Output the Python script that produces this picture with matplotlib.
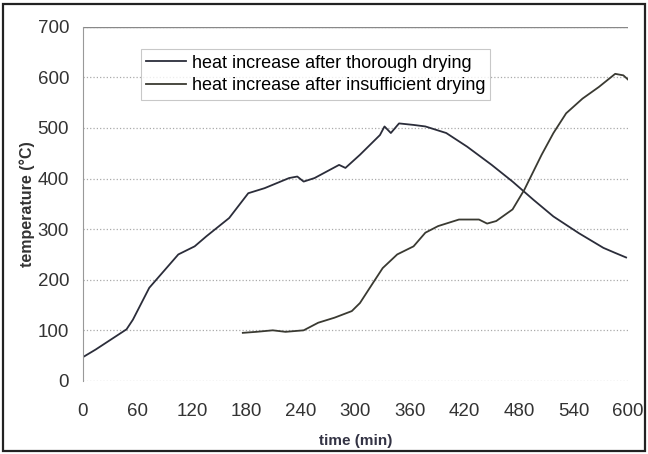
import matplotlib.pyplot as plt
from matplotlib.patches import Rectangle

plt.rcParams['font.family'] = ['Liberation Sans', 'DejaVu Sans']

# heat increase after thorough drying
t_thorough = [0, 14, 48, 55, 73, 105, 123, 136, 161, 182, 200, 227, 236, 243,
              255, 282, 289, 305, 327, 332, 339, 348, 364, 377, 400, 423, 450,
              473, 496, 518, 546, 573, 586, 598]
temp_thorough = [47, 62, 102, 121, 184, 250, 266, 286, 322, 371, 381, 401, 404,
                 394, 401, 427, 421, 447, 486, 503, 490, 509, 506, 503, 490,
                 463, 427, 394, 358, 325, 292, 263, 253, 244]

# heat increase after insufficient drying
t_insuff = [176, 191, 209, 223, 243, 259, 277, 296, 305, 318, 330, 346, 364,
            377, 391, 414, 436, 445, 455, 473, 486, 505, 518, 532, 550, 568,
            586, 595, 603]
temp_insuff = [95, 97, 100, 97, 100, 115, 125, 138, 154, 190, 223, 250, 266,
               293, 306, 319, 319, 311, 316, 339, 378, 447, 490, 529, 558, 581,
               607, 604, 591]

x_ticks = list(range(0, 601, 60))
y_ticks = list(range(0, 701, 100))

fig = plt.figure(figsize=(6.48, 4.54), dpi=100)
ax = fig.add_axes([0.128, 0.161, 0.841, 0.780])

ax.plot(t_thorough, temp_thorough, color='#2b2d3a', lw=1.3,
        label='heat increase after thorough drying')
ax.plot(t_insuff, temp_insuff, color='#3a3a32', lw=1.3,
        label='heat increase after insufficient drying')

ax.set_xlim(0, 600)
ax.set_ylim(0, 700)
ax.set_xticks(x_ticks)
ax.set_yticks(y_ticks)
ax.tick_params(axis='both', labelsize=13.5, labelcolor='#333333', length=0)
ax.tick_params(axis='x', pad=16)
ax.tick_params(axis='y', pad=10)
ax.grid(axis='y', color='#aaaaaa', linestyle=':', lw=0.9)
for side in ['top', 'right', 'bottom']:
    ax.spines[side].set_visible(False)
ax.spines['left'].set_color('#999999')
ax.axhline(700, color='#888888', lw=1.0)

ax.set_xlabel('time (min)', fontsize=11, fontweight='bold', color='#333344',
              labelpad=10)
ax.set_ylabel('temperature (°C)', fontsize=11.5, fontweight='bold',
              color='#333333', labelpad=2)

leg = ax.legend(loc='upper left', bbox_to_anchor=(0.09, 0.962), fontsize=13,
                frameon=True, fancybox=False, handlelength=2.2,
                handletextpad=0.3, borderpad=0.3, labelspacing=0.3)
leg.get_frame().set_edgecolor('#bbbbbb')
leg.get_frame().set_linewidth(0.8)

fig.patches.append(Rectangle((0.004, 0.006), 0.992, 0.985, fill=False,
                             edgecolor='#222222', lw=1.6,
                             transform=fig.transFigure, figure=fig))

fig.savefig('out.png', dpi=100)
